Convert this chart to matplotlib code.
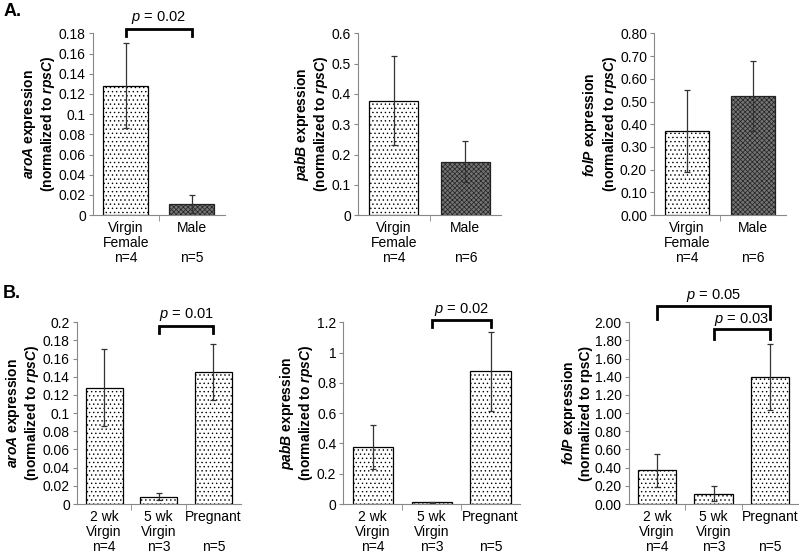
import numpy as np
import matplotlib
matplotlib.use('Agg')
import matplotlib.pyplot as plt
from matplotlib.ticker import FuncFormatter

plt.rcParams['font.family'] = ['Liberation Sans', 'DejaVu Sans']
plt.rcParams['mathtext.fontset'] = 'custom'
plt.rcParams['mathtext.rm'] = 'Liberation Sans'
plt.rcParams['mathtext.it'] = 'Liberation Sans:italic'
plt.rcParams['mathtext.bf'] = 'Liberation Sans:italic:bold'
plt.rcParams['hatch.linewidth'] = 0.5

# --- data ---
top_labels_aroA = ['Virgin\nFemale\nn=4', 'Male\n\nn=5']
top_labels_other = ['Virgin\nFemale\nn=4', 'Male\n\nn=6']
bot_labels = ['2 wk\nVirgin\nn=4', '5 wk\nVirgin\nn=3', 'Pregnant\n\nn=5']

aroA_sex = [0.128, 0.011]
aroA_sex_err = [0.042, 0.009]
pabB_sex = [0.377, 0.177]
pabB_sex_err = [0.147, 0.067]
folP_sex = [0.370, 0.525]
folP_sex_err = [0.180, 0.153]

aroA_age = [0.128, 0.008, 0.145]
aroA_age_err = [0.042, 0.004, 0.031]
pabB_age = [0.377, 0.010, 0.877]
pabB_age_err = [0.147, 0.005, 0.260]
folP_age = [0.370, 0.115, 1.400]
folP_age_err = [0.180, 0.085, 0.365]

ylab_aroA = r'$\mathbf{aroA}$ expression' + '\n' + r'(normalized to $\mathbf{rpsC}$)'
ylab_pabB = r'$\mathbf{pabB}$ expression' + '\n' + r'(normalized to $\mathbf{rpsC}$)'
ylab_folP = r'$\mathbf{folP}$ expression' + '\n' + r'(normalized to $\mathbf{rpsC}$)'
ylab_folP_b = r'$\mathbf{folP}$ expression' + '\n' + '(normalized to rpsC)'

fig = plt.figure(figsize=(8, 5.56), dpi=100)

def panel(rect, labels, vals, errs, ymax, step, fmt, ylabel, dark=None):
    ax = fig.add_axes(rect)
    x = np.arange(len(vals))
    for i in x:
        if dark is not None and i == dark:
            ax.bar(i, vals[i], 0.68, color='#747474', edgecolor='#222222',
                   hatch='xxxxxxx', linewidth=0.9)
        else:
            ax.bar(i, vals[i], 0.68, color='white', edgecolor='black',
                   hatch='....', linewidth=0.9)
    ax.errorbar(x, vals, yerr=errs, fmt='none', ecolor='#333333',
                elinewidth=0.9, capsize=2.5, capthick=0.9)
    ax.set_xlim(-0.5, len(vals) - 0.5)
    ax.set_ylim(0, ymax)
    ax.set_yticks(np.arange(0, ymax + step / 2, step))
    ax.yaxis.set_major_formatter(FuncFormatter(fmt))
    ax.set_xticks(x)
    ax.set_xticklabels(labels, fontsize=10, linespacing=1.12)
    ax.set_xticks(np.arange(0.5, len(vals) - 0.5), minor=True)
    ax.tick_params(axis='x', which='major', length=0, pad=4)
    ax.tick_params(axis='x', which='minor', length=4, color='#888888')
    ax.tick_params(axis='y', length=3, color='#888888', labelsize=10, pad=2)
    for s in ['top', 'right']:
        ax.spines[s].set_visible(False)
    for s in ['left', 'bottom']:
        ax.spines[s].set_color('#888888')
    ax.set_ylabel(ylabel, fontsize=10, fontweight='bold', linespacing=1.1,
                  labelpad=1)
    return ax

def bracket(ax, x0, x1, ytop, ybot, text, ytext):
    tr = ax.get_xaxis_transform()
    ax.plot([x0, x0, x1, x1], [ybot, ytop, ytop, ybot], color='black',
            lw=2, transform=tr, clip_on=False, solid_joinstyle='miter')
    ax.text((x0 + x1) / 2, ytext, text, transform=tr, ha='center',
            va='center', fontsize=10.5)

gfmt = lambda v, p: '{:g}'.format(round(v, 4))
ffmt = lambda v, p: '{:.2f}'.format(v)

ax1 = panel([0.116, 0.613, 0.165, 0.327], top_labels_aroA, aroA_sex,
            aroA_sex_err, 0.18, 0.02, gfmt, ylab_aroA, dark=1)
bracket(ax1, 0, 1, 1.022, 0.984, r'$p$ = 0.02', 1.088)
panel([0.4475, 0.613, 0.179, 0.327], top_labels_other, pabB_sex,
      pabB_sex_err, 0.6, 0.1, gfmt, ylab_pabB, dark=1)
panel([0.8175, 0.613, 0.165, 0.327], top_labels_other, folP_sex,
      folP_sex_err, 0.8, 0.1, ffmt, ylab_folP, dark=1)

ax4 = panel([0.096, 0.0935, 0.205, 0.327], bot_labels, aroA_age,
            aroA_age_err, 0.2, 0.02, gfmt, ylab_aroA)
bracket(ax4, 1, 2, 0.978, 0.94, r'$p$ = 0.01', 1.04)
ax5 = panel([0.429, 0.0935, 0.221, 0.327], bot_labels, pabB_age,
            pabB_age_err, 1.2, 0.2, gfmt, ylab_pabB)
bracket(ax5, 1, 2, 1.011, 0.973, r'$p$ = 0.02', 1.07)
ax6 = panel([0.786, 0.0935, 0.212, 0.327], bot_labels, folP_age,
            folP_age_err, 2.0, 0.2, ffmt, ylab_folP_b)
bracket(ax6, 0, 2, 1.088, 1.016, r'$p$ = 0.05', 1.148)
bracket(ax6, 1, 2, 0.962, 0.907, r'$p$ = 0.03', 1.016)

fig.text(0.004, 0.979, 'A.', fontsize=13, fontweight='bold', va='center')
fig.text(0.004, 0.473, 'B.', fontsize=13, fontweight='bold', va='center')

fig.savefig('out.png', dpi=100)
